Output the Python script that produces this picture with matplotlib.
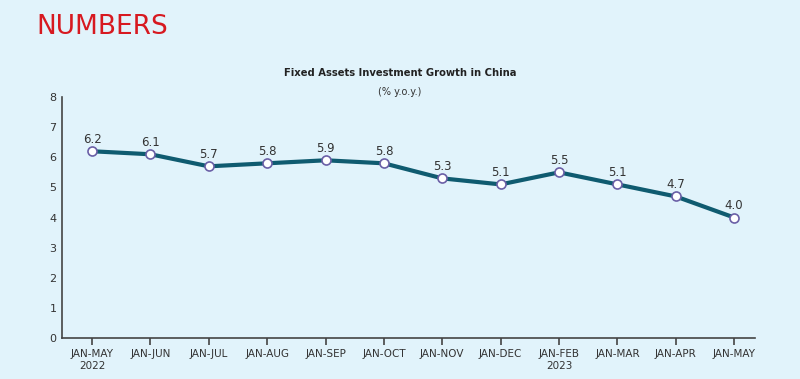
import matplotlib
matplotlib.use('Agg')
import matplotlib.pyplot as plt
from matplotlib import font_manager

# Data
periods = ['JAN-MAY\n2022', 'JAN-JUN', 'JAN-JUL', 'JAN-AUG', 'JAN-SEP', 'JAN-OCT',
           'JAN-NOV', 'JAN-DEC', 'JAN-FEB\n2023', 'JAN-MAR', 'JAN-APR', 'JAN-MAY']
growth = [6.2, 6.1, 5.7, 5.8, 5.9, 5.8, 5.3, 5.1, 5.5, 5.1, 4.7, 4.0]

names = {f.name for f in font_manager.fontManager.ttflist}
narrow = 'Liberation Sans Narrow' if 'Liberation Sans Narrow' in names else 'DejaVu Sans'

bg = '#E1F3FB'
line_col = '#0F5B70'
marker_edge = '#6A5FA6'
axis_col = '#444444'

fig = plt.figure(figsize=(8, 3.79), dpi=100, facecolor=bg)
ax = fig.add_axes([0.0775, 0.108, 0.8665, 0.636])
ax.set_facecolor(bg)

x = list(range(len(growth)))
ax.plot(x, growth, color=line_col, linewidth=3, marker='o', markersize=6.5,
        markerfacecolor='white', markeredgecolor=marker_edge, markeredgewidth=1.2,
        zorder=3)
for xi, v in zip(x, growth):
    ax.annotate(f'{v:.1f}', (xi, v), xytext=(0, 4), textcoords='offset points',
                ha='center', va='bottom', fontsize=8.5, color='#333333',
                family=narrow)

ax.set_xlim(-0.514, 11.36)
ax.set_ylim(0, 8)
ax.set_yticks(range(0, 9))
ax.set_xticks(x)
ax.set_xticklabels(periods, fontsize=7.5, color='#333333', linespacing=1.25,
                   family=narrow)
for lab in ax.get_yticklabels():
    lab.set_family(narrow)
ax.tick_params(axis='y', length=0, labelsize=8, colors='#333333', pad=4)
ax.tick_params(axis='x', length=5, width=1.2, color=axis_col, pad=3)
for s in ['top', 'right']:
    ax.spines[s].set_visible(False)
for s in ['left', 'bottom']:
    ax.spines[s].set_color(axis_col)
    ax.spines[s].set_linewidth(1.2)

fig.text(0.046, 0.910, 'NUMBERS', fontsize=19, color='#D71920',
         family=narrow, ha='left', va='baseline')
fig.text(0.5, 0.795, 'Fixed Assets Investment Growth in China', fontsize=7.2,
         fontweight='bold', color='#222222', ha='center', va='bottom')
fig.text(0.5, 0.745, '(% y.o.y.)', fontsize=7, color='#333333',
         ha='center', va='bottom')

fig.savefig('out.png', dpi=100, facecolor=bg)
